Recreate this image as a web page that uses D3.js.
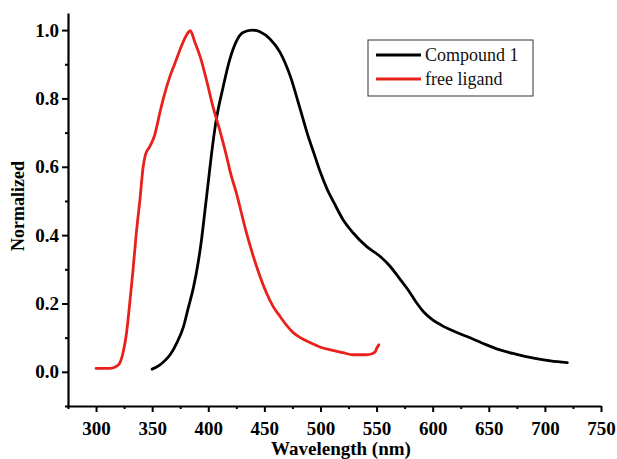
<!DOCTYPE html>
<html>
<head>
  <meta charset="utf-8">
  <title>Normalized emission</title>
  <script src="https://d3js.org/d3.v7.min.js"></script>
  <style>
    body { margin: 0; background: #fff; }
    svg text { font-family: "Liberation Serif", "Times New Roman", serif; }
  </style>
</head>
<body>
<svg width="617" height="459"></svg>
<script>
// Compound 1 spectrum (wavelength nm, normalized intensity)
const compoundWave = [350, 356, 362, 366, 372, 378, 382, 387, 391, 394, 397, 400, 403, 407, 413, 419, 425, 431, 439, 446, 455, 464, 473, 482, 488, 494, 500, 506, 512, 520, 529, 541, 553, 562, 570, 578, 585, 592, 600, 608, 618, 630, 645, 660, 675, 690, 705, 720];
const compoundVal = [0.008, 0.018, 0.035, 0.05, 0.085, 0.133, 0.185, 0.25, 0.32, 0.387, 0.47, 0.555, 0.64, 0.735, 0.83, 0.912, 0.967, 0.993, 1.0, 0.995, 0.974, 0.935, 0.866, 0.768, 0.70, 0.641, 0.583, 0.534, 0.495, 0.446, 0.407, 0.367, 0.338, 0.309, 0.275, 0.24, 0.205, 0.175, 0.152, 0.136, 0.12, 0.104, 0.083, 0.064, 0.051, 0.04, 0.032, 0.027];

// free ligand spectrum
const ligandWave = [300, 310, 314, 318, 321, 324, 327, 330, 333, 336, 339, 342, 344, 348, 352, 357, 360, 366, 370, 375, 379, 384, 388, 393, 399, 404, 410, 416, 420, 425, 434, 443, 452, 458, 464, 470, 476, 482, 491, 500, 509, 520, 529, 541, 546, 549, 550, 552];
const ligandVal = [0.01, 0.01, 0.011, 0.016, 0.025, 0.055, 0.11, 0.2, 0.3, 0.41, 0.5, 0.6, 0.635, 0.66, 0.69, 0.76, 0.8, 0.866, 0.9, 0.944, 0.975, 0.998, 0.965, 0.92, 0.846, 0.778, 0.71, 0.635, 0.58, 0.524, 0.407, 0.309, 0.23, 0.19, 0.162, 0.135, 0.114, 0.1, 0.085, 0.072, 0.064, 0.056, 0.05, 0.05, 0.053, 0.06, 0.068, 0.079];

const xMajor = [300, 350, 400, 450, 500, 550, 600, 650, 700, 750];
const xMinor = [275, 325, 375, 425, 475, 525, 575, 625, 675, 725];
const yMajor = [0.0, 0.2, 0.4, 0.6, 0.8, 1.0];
const yMinor = [-0.1, 0.1, 0.3, 0.5, 0.7, 0.9];

const seriesNames = ["Compound 1", "free ligand"];
const seriesColors = ["#000000", "#e8221b"];

const svg = d3.select("svg");

const x = d3.scaleLinear().domain([275, 750]).range([68, 601]);
const y = d3.scaleLinear().domain([-0.1, 1.05]).range([406, 13]);

// axes
svg.append("g").attr("transform", "translate(0,406)")
  .call(d3.axisBottom(x).tickValues(xMajor).tickSize(6).tickSizeOuter(0).tickPadding(10).tickFormat(d3.format("d")));
svg.append("g").attr("transform", "translate(0,406)")
  .call(d3.axisBottom(x).tickValues(xMinor).tickSize(3).tickFormat(""))
  .select(".domain").remove();

svg.append("g").attr("transform", "translate(68,0)")
  .call(d3.axisLeft(y).tickValues(yMajor).tickSize(6).tickSizeOuter(0).tickPadding(3).tickFormat(d3.format(".1f")));
svg.append("g").attr("transform", "translate(68,0)")
  .call(d3.axisLeft(y).tickValues(yMinor).tickSize(3).tickFormat(""))
  .select(".domain").remove();

svg.selectAll(".domain").attr("stroke-width", 2.2);
svg.selectAll(".tick line").attr("stroke-width", 2);
svg.selectAll(".tick text")
  .attr("font-weight", "bold")
  .attr("font-size", "19px")
  .attr("fill", "#000");

// axis titles
svg.append("text")
  .attr("x", 341).attr("y", 455)
  .attr("text-anchor", "middle")
  .attr("font-weight", "bold").attr("font-size", "19px")
  .text("Wavelength (nm)");

svg.append("text")
  .attr("transform", "translate(24,206) rotate(-90)")
  .attr("text-anchor", "middle")
  .attr("font-weight", "bold").attr("font-size", "18px")
  .text("Normalized");

// lines
const line = d3.line()
  .x(d => x(d[0]))
  .y(d => y(d[1]))
  .curve(d3.curveMonotoneX);

const series = [
  d3.zip(compoundWave, compoundVal),
  d3.zip(ligandWave, ligandVal)
];

svg.selectAll("path.series")
  .data(series)
  .enter()
  .append("path")
  .attr("class", "series")
  .attr("d", line)
  .attr("fill", "none")
  .attr("stroke", (d, i) => seriesColors[i])
  .attr("stroke-width", 2.8)
  .attr("stroke-linejoin", "round")
  .attr("stroke-linecap", "round");

// legend
const legend = svg.append("g");
legend.append("rect")
  .attr("x", 368).attr("y", 40)
  .attr("width", 165).attr("height", 56)
  .attr("fill", "#fff")
  .attr("stroke", "#333").attr("stroke-width", 1);

seriesNames.forEach((name, i) => {
  const ly = 55 + i * 24;
  legend.append("line")
    .attr("x1", 376).attr("x2", 421)
    .attr("y1", ly).attr("y2", ly)
    .attr("stroke", seriesColors[i])
    .attr("stroke-width", 3);
  legend.append("text")
    .attr("x", 425).attr("y", ly + 6)
    .attr("font-size", "18px")
    .attr("fill", "#111")
    .text(name);
});
</script>
</body>
</html>
